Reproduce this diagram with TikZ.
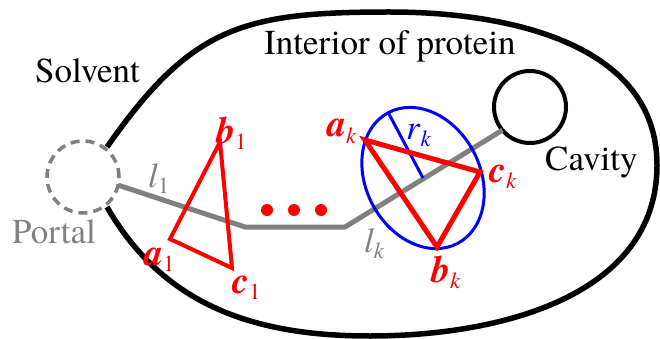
\documentclass[tikz,border=0pt]{standalone}
\usepackage{fontspec}
\setmainfont{texgyretermes}[Extension=.otf,UprightFont=*-regular,BoldFont=*-bold,ItalicFont=*-italic,BoldItalicFont=*-bolditalic]
\usepackage{xcolor}
\usepackage{tikz}
\usetikzlibrary{calc,shapes.geometric}
\definecolor{ashgray}{HTML}{808080}
\definecolor{ruby}{HTML}{FF0000}
\definecolor{cobalt}{HTML}{0000FF}
\newcommand{\vlab}[2]{\textbf{\textit{#1}}\raisebox{-6pt}{\fontsize{23}{23}\selectfont #2}}
\newcommand{\plab}[2]{\textit{#1}\raisebox{-6pt}{\fontsize{23}{23}\selectfont #2}}

\begin{document}
\begin{tikzpicture}[x=1pt,y=1pt,lbl/.style={inner sep=0,anchor=base west,font=\fontsize{35}{40}\selectfont},vx/.style={lbl,ruby,font=\fontsize{38}{40}\selectfont}]
\useasboundingbox (0,0) rectangle (660,-339);
\node[circle,draw=ashgray,line width=3.5,dash pattern=on 9pt off 6pt,minimum size=72,inner sep=0,outer sep=0] (portal) at (83,-177) {};
\node[circle,draw,line width=4,minimum size=72,inner sep=0,outer sep=0] (cavity) at (530,-107) {};
\draw[line width=5.5] (107,-147) to[out=55,in=180,looseness=1.2] (390,-12) to[out=0,in=90] (657,-165) to[out=-90,in=0] (370,-336) to[out=180,in=-60] (107,-207);
\coordinate (bend1) at (245,-227); \coordinate (bend2) at (345,-227);
\draw[ashgray,line width=5,line join=round] (portal.-13) -- (bend1) -- (bend2) -- (cavity.-140);
\node[ellipse,draw=cobalt,line width=3,minimum width=114,minimum height=148,inner sep=0,outer sep=0,rotate=28] (ell) at (423,-178) {};
\draw[cobalt,line width=3] (ell.center) -- (ell.north);
\coordinate (a1) at (170,-239); \coordinate (b1) at (220,-142); \coordinate (c1) at (232,-268);
\coordinate (ak) at (365,-140); \coordinate (bk) at (437,-247); \coordinate (ck) at (480,-172);
\draw[ruby,line width=4] (a1) -- (b1) -- (c1) -- cycle;
\draw[ruby,line width=5] (ak) -- (ck) -- (bk) -- cycle;
\foreach \dx in {267,294,321} \fill[ruby] (\dx,-210) circle (6);
\node[lbl] (solvent) at (35,-83) {Solvent};
\node[lbl] (interior) at (264,-55) {Interior of protein};
\node[lbl] (cavlab) at (545,-170) {Cavity};
\node[lbl,ashgray] (portlab) at (12,-243) {Portal};
\node[lbl,ashgray] (l1lab) at (148,-187) {\plab{l}{1}};
\node[lbl,ashgray] (lklab) at (364,-252) {\plab{l}{\itshape k}};
\node[lbl,cobalt] (rklab) at (406,-140) {\plab{r}{\itshape k}};
\node[vx] (a1lab) at (144,-265) {\vlab{a}{1}};
\node[vx] (b1lab) at (216,-143) {\vlab{b}{1}};
\node[vx] (c1lab) at (232,-293) {\vlab{c}{1}};
\node[vx] (aklab) at (327,-137) {\vlab{a}{\itshape k}};
\node[vx] (bklab) at (431,-282) {\vlab{b}{\itshape k}};
\node[vx] (cklab) at (489,-182) {\vlab{c}{\itshape k}};
\end{tikzpicture}
\end{document}
